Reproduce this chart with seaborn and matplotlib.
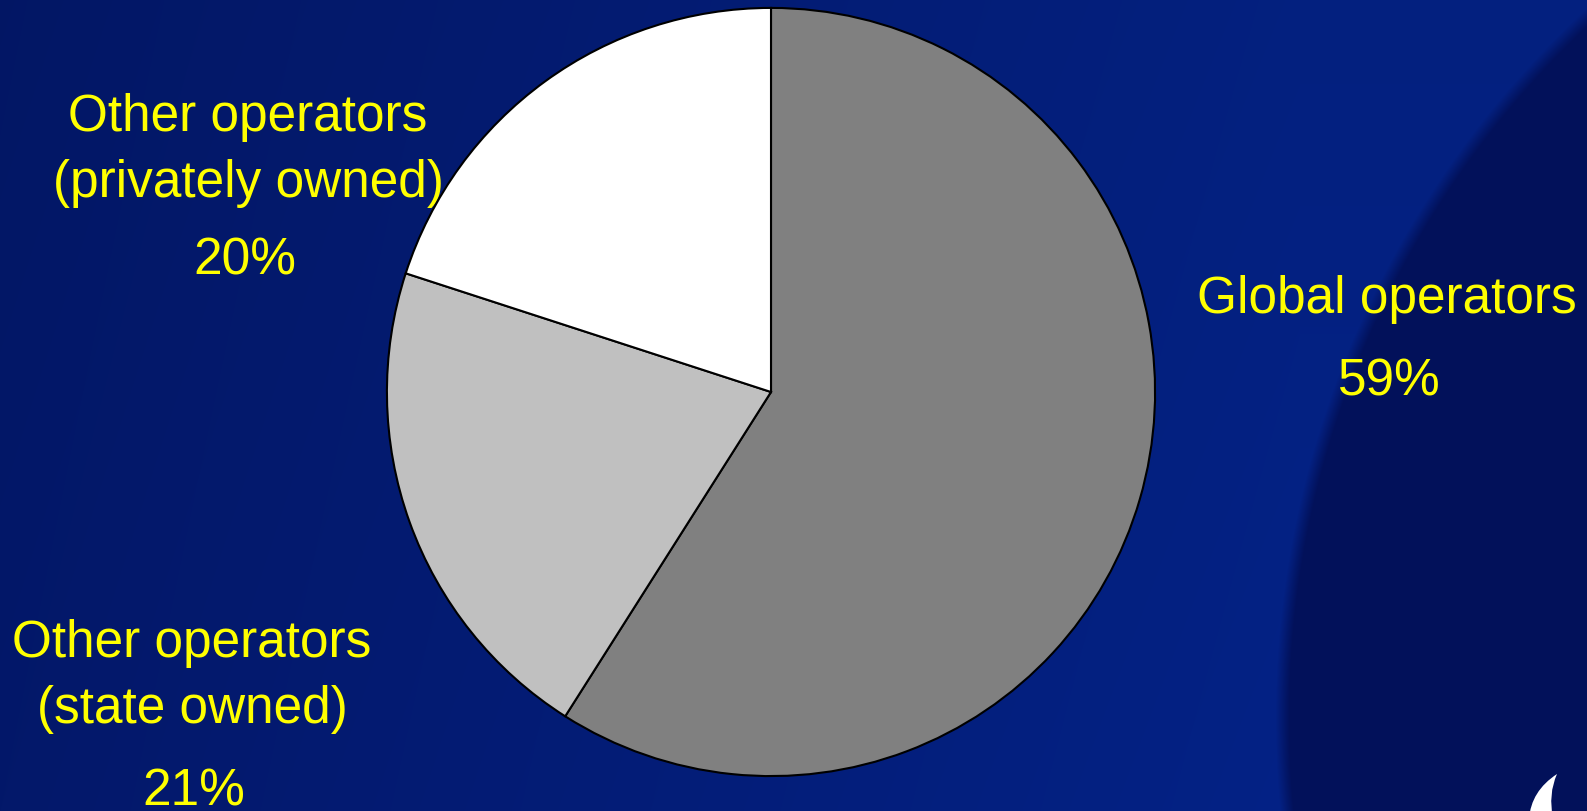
import numpy as np
import matplotlib
matplotlib.use("Agg")
import matplotlib.pyplot as plt
from matplotlib.path import Path
from matplotlib.patches import PathPatch
import seaborn as sns

# Market share by operator type
segments = ["Global operators", "Other operators\n(state owned)", "Other operators\n(privately owned)"]
shares = [59, 21, 20]
segment_colors = ["#808080", "#c0c0c0", "#ffffff"]

sns.set_theme(style="white")
plt.rcParams["font.family"] = ["Liberation Sans", "DejaVu Sans"]

W, H = 1587, 812
fig = plt.figure(figsize=(W / 100, H / 100), dpi=100)

# Slide background: blue horizontal gradient with a large dark disc on the right
yy, xx = np.mgrid[0:H, 0:W].astype(float)
t = np.clip(xx / 1300.0, 0, 1)
left = np.array([3, 24, 106]) / 255.0
right = np.array([4, 34, 134]) / 255.0
bg = left[None, None, :] * (1 - t[..., None]) + right[None, None, :] * t[..., None]
bg = bg * (1 - 0.05 * (1 - yy / H))[..., None]
cx, cy, r = 2241.0, 719.0, 959.0
d = np.hypot(xx - cx, yy - cy)
a = np.clip((r - d) / 14.0 + 0.5, 0, 1)
disc = np.array([2, 17, 90]) / 255.0
bg = bg * (1 - a[..., None]) + disc[None, None, :] * a[..., None]

ax_bg = fig.add_axes([0, 0, 1, 1])
ax_bg.imshow(bg, extent=(0, W, H, 0), aspect="auto", interpolation="bilinear")
ax_bg.set_xlim(0, W)
ax_bg.set_ylim(H, 0)
ax_bg.axis("off")

# Small crescent emblem in the lower right corner
verts = [(1557, 775), (1531, 792), (1529, 820), (1553, 820), (1548, 795), (1557, 775), (1557, 775)]
codes = [Path.MOVETO, Path.CURVE3, Path.CURVE3, Path.LINETO, Path.CURVE3, Path.CURVE3, Path.CLOSEPOLY]
ax_bg.add_patch(PathPatch(Path(verts, codes), facecolor="white", edgecolor="none"))

# Pie
pcx, pcy, pr = 771, 393, 386
ax = fig.add_axes([(pcx - pr) / W, (H - pcy - pr) / H, 2 * pr / W, 2 * pr / H])
ax.pie(shares, colors=segment_colors, startangle=90, counterclock=False,
       wedgeprops=dict(edgecolor="black", linewidth=1.5))
ax.set_xlim(-1.005, 1.005)
ax.set_ylim(-1.005, 1.005)
ax.set_aspect("equal")
ax.axis("off")

# Labels (figure pixel coordinates, baseline aligned)
label_style = dict(color="#ffff00", fontsize=37, ha="center", va="baseline",
                   transform=ax_bg.transData)
label_pos = {
    0: ((1387, 313), (1389, 396)),
    1: ((192, 657), (194, 806)),
    2: ((248, 131), (245, 275)),
}
for i, (name, val) in enumerate(zip(segments, shares)):
    (nx, ny), (px, py) = label_pos[i]
    for k, line in enumerate(name.split("\n")):
        ax_bg.text(nx, ny + 66 * k, line, **label_style)
    ax_bg.text(px, py, f"{val}%", **label_style)

fig.savefig("out.png", dpi=100)
